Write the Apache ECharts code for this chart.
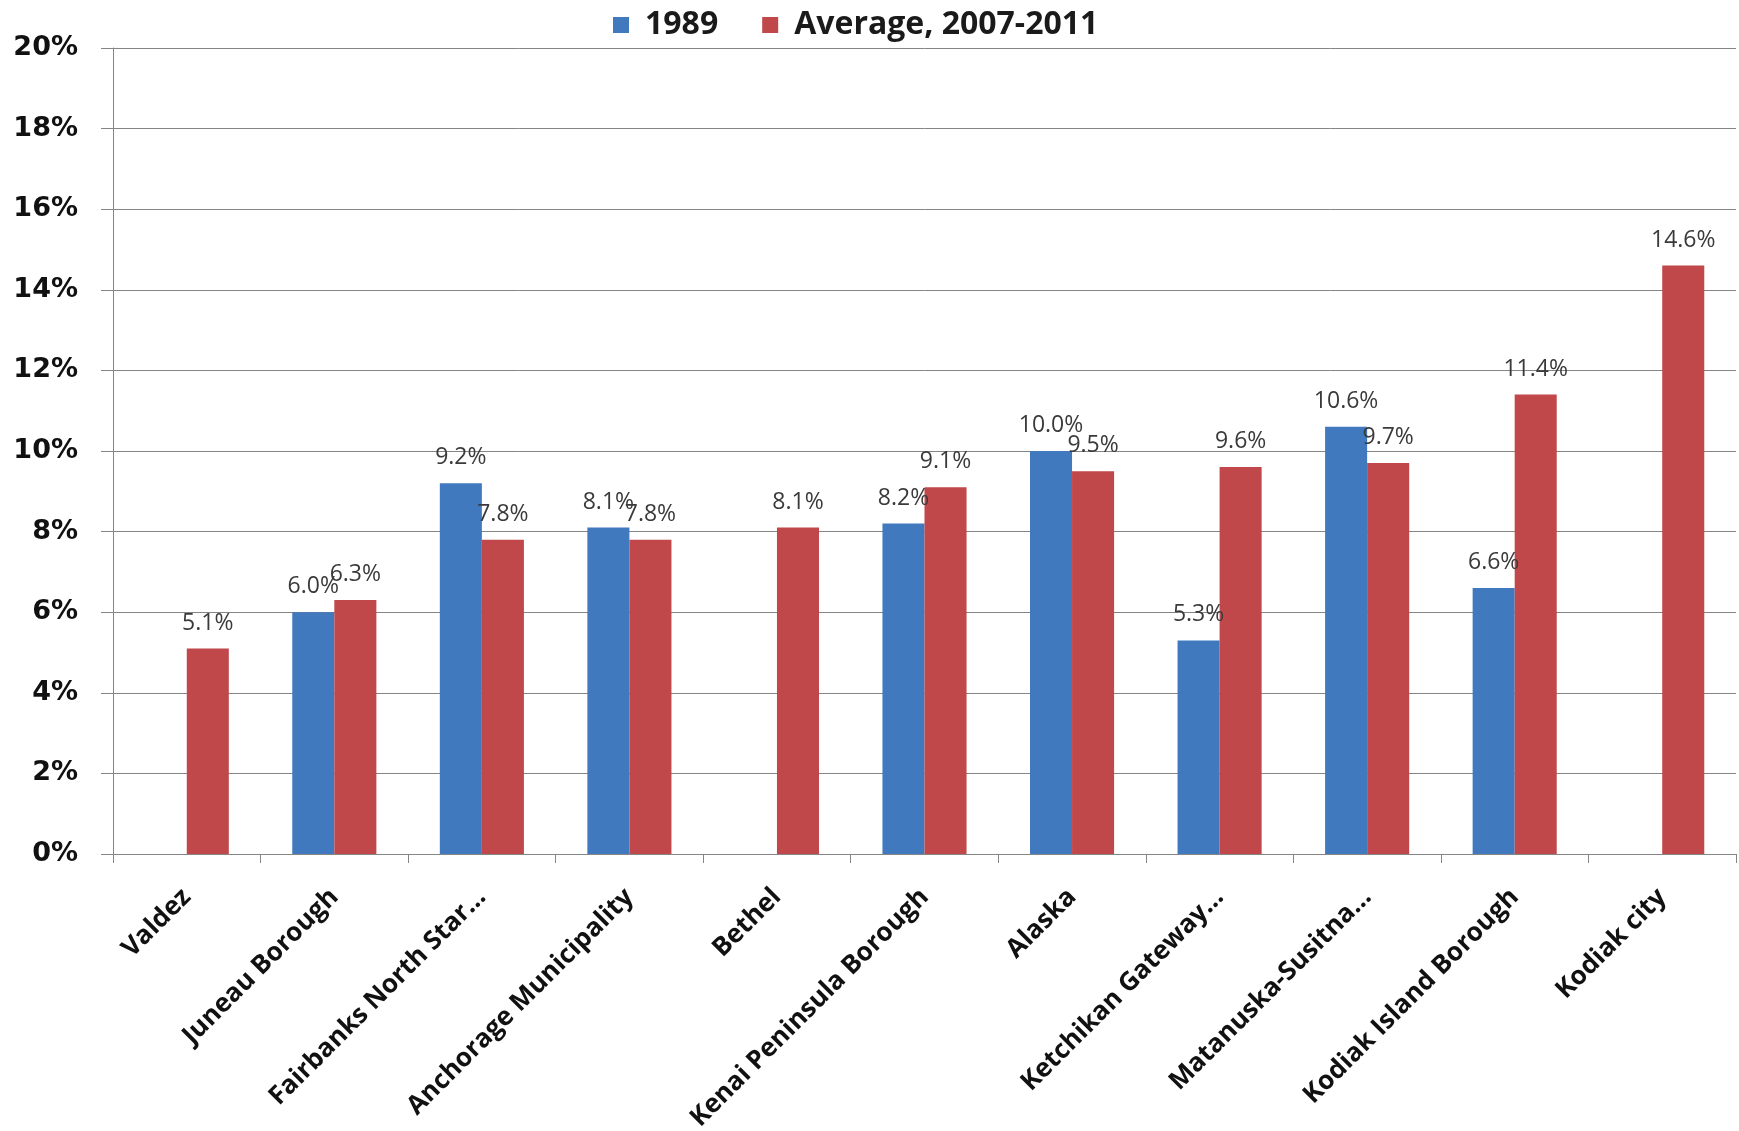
<!DOCTYPE html>
<html>
<head>
<meta charset="utf-8">
<script src="https://cdn.jsdelivr.net/npm/echarts@6/dist/echarts.min.js"></script>
<style>
  html, body { margin: 0; padding: 0; background: #ffffff; }
  #chart { width: 1739px; height: 1131px; }
</style>
</head>
<body>
<div id="chart"></div>
<script>
// Places compared
const categories = [
  'Valdez', 'Juneau Borough', 'Fairbanks North Star...', 'Anchorage Municipality',
  'Bethel', 'Kenai Peninsula Borough', 'Alaska', 'Ketchikan Gateway...',
  'Matanuska-Susitna...', 'Kodiak Island Borough', 'Kodiak city'
];
// Rate in 1989 (percent); null where no figure exists
const values1989 = [null, 6.0, 9.2, 8.1, null, 8.2, 10.0, 5.3, 10.6, 6.6, null];
// Average rate 2007-2011 (percent)
const valuesAvg = [5.1, 6.3, 7.8, 7.8, 8.1, 9.1, 9.5, 9.6, 9.7, 11.4, 14.6];
// Y axis ticks (percent)
const yTicks = [0, 2, 4, 6, 8, 10, 12, 14, 16, 18, 20];

const seriesNames = ['1989', 'Average, 2007-2011'];
const colors = ['#4179bf', '#c1484a'];

const chart = echarts.init(document.getElementById('chart'), null, { renderer: 'canvas' });

const valueLabel = {
  show: true,
  position: 'top',
  distance: 14,
  color: '#3a3a3a',
  fontFamily: 'Open Sans',
  fontSize: 23,
  formatter: p => p.value == null ? '' : p.value.toFixed(1) + '%'
};

chart.setOption({
  animation: false,
  backgroundColor: '#ffffff',
  color: colors,
  legend: {
    left: 613,
    top: 9,
    padding: 0,
    itemWidth: 16,
    itemHeight: 16,
    itemGap: 44,
    icon: 'rect',
    textStyle: {
      fontFamily: 'Open Sans',
      fontWeight: 'bold',
      fontSize: 32,
      color: '#1a1a1a',
      padding: [0, 0, 0, 11]
    },
    data: seriesNames
  },
  grid: {
    left: 113,
    right: 3,
    top: 48,
    bottom: 277,
    containLabel: false,
    outerBoundsMode: 'none'
  },
  xAxis: {
    type: 'category',
    data: categories,
    axisLine: { lineStyle: { color: '#858585', width: 1 } },
    axisTick: { show: true, length: 9, lineStyle: { color: '#858585' } },
    axisLabel: {
      rotate: 45,
      interval: 0,
      margin: 39,
      color: '#111111',
      fontFamily: 'Open Sans',
      fontWeight: 'bold',
      fontSize: 26
    }
  },
  yAxis: {
    type: 'value',
    min: yTicks[0],
    max: yTicks[yTicks.length - 1],
    interval: yTicks[1] - yTicks[0],
    axisLine: { show: true, lineStyle: { color: '#858585', width: 1 } },
    axisTick: { show: true, length: 12, lineStyle: { color: '#858585' } },
    splitLine: { show: true, lineStyle: { color: '#858585', width: 1 } },
    axisLabel: {
      margin: 35,
      color: '#111111',
      fontFamily: 'DejaVu Sans',
      fontWeight: 'bold',
      fontSize: 27,
      formatter: v => v + '%'
    }
  },
  series: [
    {
      name: seriesNames[0],
      type: 'bar',
      data: values1989,
      barGap: '0%',
      barCategoryGap: '43%',
      label: valueLabel
    },
    {
      name: seriesNames[1],
      type: 'bar',
      data: valuesAvg,
      barGap: '0%',
      barCategoryGap: '43%',
      label: valueLabel
    }
  ]
});
</script>
</body>
</html>
